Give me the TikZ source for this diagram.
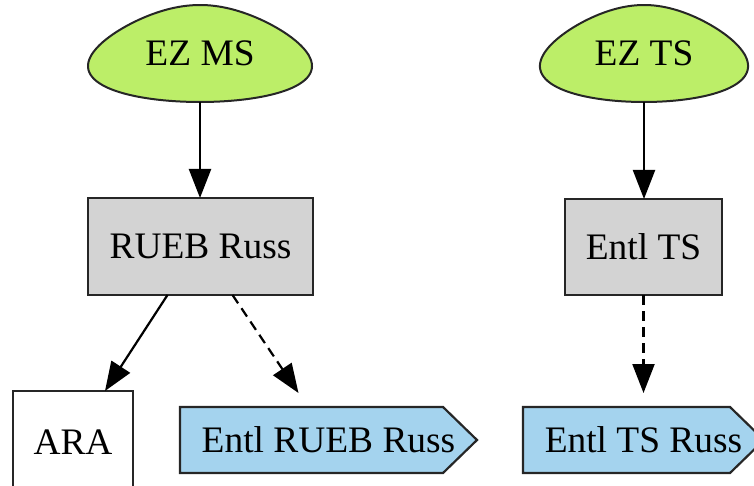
\documentclass[tikz,border=0pt]{standalone}
\usepackage{fontspec}
\setmainfont{Liberation Serif}
\usetikzlibrary{arrows.meta,calc}
\definecolor{eggg}{HTML}{BCEE68}
\definecolor{boxg}{HTML}{D3D3D3}
\definecolor{tagb}{HTML}{A4D3EE}
\begin{document}
\begin{tikzpicture}[x=0.5pt,y=-0.5pt,
  every node/.style={font=\fontsize{18.7}{22}\selectfont, inner sep=0pt, outer sep=0pt},
  eggnode/.style={minimum height=48.5pt},
  gbox/.style={draw=black!85, fill=boxg, line width=1.1pt},
  wbox/.style={draw=black!85, fill=white, line width=1.1pt},
  tagshape/.style={draw=black!85, fill=tagb, line width=1.1pt, line join=miter},
  eggshape/.style={draw=black!85, fill=eggg, line width=1pt},
  arr/.style={line width=1.1pt, -{Triangle[length=14.5pt,width=11pt]}},
  dsh/.style={dash pattern=on 5pt off 3pt}]
\useasboundingbox (0,0) rectangle (754,486);
\clip (0,0) rectangle (754,486);
% egg shapes
\draw[eggshape,shift={(200,53.5)}] plot[domain=0:360,samples=120,smooth cycle] ({107.6*cos(\x)*(1-0.3*sin(\x))},{-48.5*sin(\x)});
\draw[eggshape,shift={(644,53.5)}] plot[domain=0:360,samples=120,smooth cycle] ({100*cos(\x)*(1-0.3*sin(\x))},{-48.5*sin(\x)});
\node[eggnode, minimum width=112pt] (ezms) at (200,53.5) {EZ MS};
\node[eggnode, minimum width=104pt] (ezts) at (644,53.5) {EZ TS};
% boxes
\node[gbox, minimum width=112.5pt, minimum height=48.5pt] (rueb) at (200.5,246.5) {RUEB Russ};
\node[gbox, minimum width=78.5pt, minimum height=48pt] (entl) at (643.5,247) {Entl TS};
\node[wbox, minimum width=60pt, minimum height=51pt] (ara) at (73,442) {ARA};
% tag shapes
\node[minimum width=148.5pt, minimum height=33pt] (entlr) at (328.5,440) {};
\draw[tagshape] (entlr.north west) -- ([xshift=-17pt]entlr.north east) -- (entlr.east) -- ([xshift=-17pt]entlr.south east) -- (entlr.south west) -- cycle;
\node at (entlr.center) {Entl RUEB Russ};
\node[minimum width=120.5pt, minimum height=33pt] (entlt) at (643.5,440) {};
\draw[tagshape] (entlt.north west) -- ([xshift=-17pt]entlt.north east) -- (entlt.east) -- ([xshift=-17pt]entlt.south east) -- (entlt.south west) -- cycle;
\node at (entlt.center) {Entl TS Russ};
% edges
\draw[arr] (ezms.south) -- (ezms.south |- rueb.north);
\draw[arr] (ezts.south) -- (ezts.south |- entl.north);
\draw[arr] ([xshift=-16.5pt]rueb.south) -- ([xshift=16pt]ara.north);
\draw[arr,dsh] ([xshift=16pt]rueb.south) -- ([xshift=-15pt,yshift=7pt]entlr.north);
\draw[arr,dsh] (entl.south) -- ([yshift=7pt]entlt.north);
\end{tikzpicture}
\end{document}
